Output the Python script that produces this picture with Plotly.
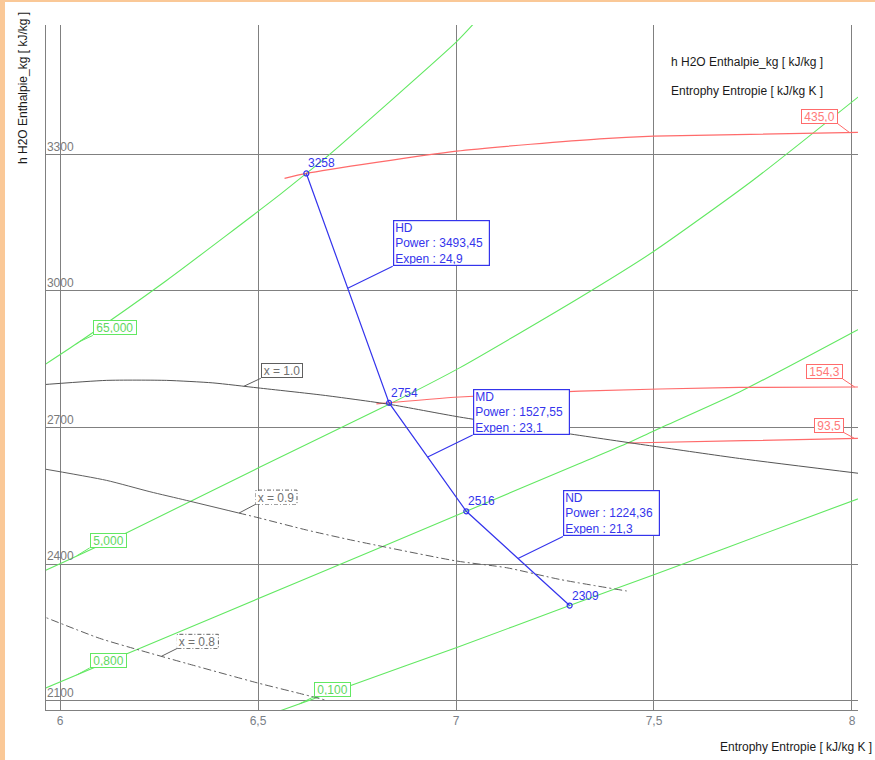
import numpy as np
import plotly.graph_objects as go

FONT = "Liberation Sans, Arial, sans-serif"
BLUE = "#3434ec"
GREEN = "#62e862"
GREEN_TXT = "#5fd85f"
RED = "#ff6b6b"
RED_TXT = "#ff7a7a"
GRID = "#808080"
SAT = "#555555"
QUAL = "#5f5f5f"

# ---- turbine expansion line (s in kJ/kg K, h in kJ/kg) ----
stage_s = [6.622, 6.831, 7.026, 7.287]
stage_h = [3258, 2754, 2516, 2309]
section_names = ["HD", "MD", "ND"]
section_power = ["3493,45", "1527,55", "1224,36"]
section_expen = ["24,9", "23,1", "21,3"]

# ---- isobars (bar) ----
p65_s = [5.940, 6.050, 6.269, 6.556, 6.622, 6.681, 7.001, 7.050]
p65_h = [2826, 2889, 3023, 3212, 3258, 3300, 3547, 3592]
p5_s = [5.940, 6.166, 6.500, 6.831, 7.009, 7.312, 7.498, 7.750, 8.030]
p5_h = [2377, 2468, 2611, 2751, 2831, 2985, 3086, 3243, 3436]
p08_s = [5.940, 6.166, 6.610, 7.026, 7.312, 7.434, 7.498, 7.716, 8.030]
p08_h = [2119, 2202, 2364, 2516, 2621, 2666, 2692, 2778, 2922]
p01_s = [6.550, 6.736, 7.002, 7.287, 7.498, 7.868, 8.030]
p01_h = [2076, 2134, 2217, 2309, 2376, 2496, 2548]
isobar_labels = ["65,000", "5,000", "0,800", "0,100"]
isobar_label_s = [6.050, 6.042, 6.042, 6.605]

# ---- isotherms (deg C) ----
t435_s = [6.567, 6.622, 7.001, 7.363, 7.499, 8.015]
t435_h = [3247, 3258, 3307, 3334, 3340, 3348]
t154_s = [6.799, 7.009, 7.312, 7.716, 8.015]
t154_h = [2752, 2767, 2780, 2788, 2789]
t93_s = [7.434, 7.727, 8.015]
t93_h = [2666, 2671, 2676]
isotherm_labels = ["435,0", "154,3", "93,5"]
isotherm_label_s = [7.994, 8.007, 8.007]

# ---- lines of constant steam quality ----
x10_s = [5.940, 6.117, 6.269, 6.386, 6.500, 6.664, 6.831, 7.009, 7.279, 7.498, 7.716, 8.030]
x10_h = [2793, 2803.5, 2803.5, 2798, 2787, 2771, 2751, 2723, 2687, 2659, 2632, 2598]
x09_s = [5.940, 6.117, 6.227, 6.319, 6.500, 6.622, 6.740, 7.000, 7.128, 7.264, 7.431]
x09_h = [2612, 2584, 2559, 2540, 2502, 2475, 2452, 2407, 2392, 2366, 2341]
x08_s = [5.940, 6.100, 6.201, 6.319, 6.499, 6.605, 6.668]
x08_h = [2291, 2237, 2211, 2182, 2139, 2116, 2102]
quality_labels = ["x = 1.0", "x = 0.9", "x = 0.8"]
quality_label_s = [6.464, 6.452, 6.256]

# ---- axes ----
x_ticks = [6, 6.5, 7, 7.5, 8]
x_ticktext = ["6", "6,5", "7", "7,5", "8"]
y_ticks = [2100, 2400, 2700, 3000, 3300]
y_ticktext = ["2100", "2400", "2700", "3000", "3300"]
x_range = [5.9646, 8.0152]
y_range = [2079.6, 3584.0]

h_title = "h H2O Enthalpie_kg [ kJ/kg ]"
s_title = "Entrophy Entropie [ kJ/kg K ]"

fig = go.Figure()


def add_line(s, h, color, width=1.0, dash="solid", shape="spline"):
    fig.add_trace(go.Scatter(x=s, y=h, mode="lines", hoverinfo="skip",
                             line=dict(color=color, width=width, dash=dash,
                                       shape=shape, smoothing=0.6),
                             showlegend=False))


isobars = [(p65_s, p65_h), (p5_s, p5_h), (p08_s, p08_h), (p01_s, p01_h)]
for s, h in isobars:
    add_line(s, h, GREEN, 1.1)

isotherms = [(t435_s, t435_h), (t154_s, t154_h), (t93_s, t93_h)]
for s, h in isotherms:
    add_line(s, h, RED, 1.2)

# saturation line and wet-steam quality lines
add_line(x10_s, x10_h, SAT, 1.0)
split = 6.45
x09_sa = np.array(x09_s)
x09_ha = np.array(x09_h)
h_split = float(np.interp(split, x09_sa, x09_ha))
left = x09_sa < split
add_line(list(x09_sa[left]) + [split], list(x09_ha[left]) + [h_split], QUAL, 1.0)
add_line([split] + list(x09_sa[~left]), [h_split] + list(x09_ha[~left]), QUAL, 1.0,
         "8px,3px,2px,3px")
add_line(x08_s, x08_h, QUAL, 1.0, "8px,3px,2px,3px")

# expansion line with state points
fig.add_trace(go.Scatter(x=stage_s, y=stage_h, mode="lines+markers", hoverinfo="skip",
                         line=dict(color=BLUE, width=1.2),
                         marker=dict(symbol="circle-open", size=5, color=BLUE,
                                     line=dict(width=1.2, color=BLUE)),
                         showlegend=False))

annotations = []
shapes = []

for s, h in zip(stage_s, stage_h):
    annotations.append(dict(x=s, y=h, text=str(h), showarrow=False,
                            xanchor="left", yanchor="bottom", yshift=1,
                            font=dict(family=FONT, size=12, color=BLUE)))

for i, name in enumerate(section_names):
    ms = (stage_s[i] + stage_s[i + 1]) / 2
    mh = (stage_h[i] + stage_h[i + 1]) / 2
    annotations.append(dict(
        x=ms, y=mh, ax=45, ay=-22, axref="pixel", ayref="pixel",
        text=f"{name}<br>Power : {section_power[i]}<br>Expen : {section_expen[i]}",
        showarrow=True, arrowhead=0, arrowwidth=1.1, arrowcolor=BLUE,
        xanchor="left", yanchor="bottom", align="left", valign="middle",
        width=93, height=42, borderpad=1, borderwidth=1.2,
        bordercolor=BLUE, bgcolor="white",
        font=dict(family=FONT, size=12, color=BLUE)))

# isobar labels
isobar_offsets = [(13, -6), (13, -8), (13, -7), (14, -7)]
for (s, h), lab, ls, (ax, ay) in zip(isobars, isobar_labels, isobar_label_s, isobar_offsets):
    lh = float(np.interp(ls, s, h))
    annotations.append(dict(
        x=ls, y=lh, ax=ax, ay=ay, text=lab, showarrow=True, arrowhead=0,
        arrowwidth=1, arrowcolor=GREEN, xanchor="left", yanchor="bottom",
        width=len(lab) * 6.6, height=11, borderpad=1, borderwidth=1,
        bordercolor=GREEN, bgcolor="white",
        font=dict(family=FONT, size=12, color=GREEN_TXT)))

# isotherm labels
isotherm_offsets = [(-12, -9), (-12, -8), (-11, -6)]
for (s, h), lab, ls, (ax, ay) in zip(isotherms, isotherm_labels, isotherm_label_s, isotherm_offsets):
    lh = float(np.interp(ls, s, h))
    annotations.append(dict(
        x=ls, y=lh, ax=ax, ay=ay, text=lab, showarrow=True, arrowhead=0,
        arrowwidth=1, arrowcolor=RED, xanchor="right", yanchor="bottom",
        width=len(lab) * 6.6, height=11, borderpad=1, borderwidth=1,
        bordercolor=RED, bgcolor="white",
        font=dict(family=FONT, size=12, color=RED_TXT)))

# quality labels
quality_lines = [(x10_s, x10_h), (x09_s, x09_h), (x08_s, x08_h)]
quality_offsets = [(17, -8), (17, -9), (16, -8)]
for k, ((s, h), lab, ls, (ax, ay)) in enumerate(
        zip(quality_lines, quality_labels, quality_label_s, quality_offsets)):
    lh = float(np.interp(ls, s, h))
    solid = k == 0
    annotations.append(dict(
        x=ls, y=lh, ax=ax, ay=ay, text=lab, showarrow=True, arrowhead=0,
        arrowwidth=1, arrowcolor=QUAL, xanchor="left", yanchor="bottom",
        width=38, height=11, borderpad=1, borderwidth=1 if solid else 0,
        bordercolor=QUAL, bgcolor="white",
        font=dict(family=FONT, size=12, color="#707070")))
    if not solid:
        shapes.append(dict(
            type="rect", xref="x", yref="y", xsizemode="pixel", ysizemode="pixel",
            xanchor=ls, yanchor=lh, x0=ax, x1=ax + 41, y0=-ay, y1=-ay + 14,
            line=dict(color=QUAL, width=1, dash="4px,2px,1px,2px"),
            fillcolor="rgba(0,0,0,0)", layer="above"))

# axis titles and caption texts
annotations.append(dict(xref="paper", yref="paper", x=-0.0283, y=1.0219,
                        text=h_title, textangle=-90, showarrow=False,
                        xanchor="center", yanchor="top",
                        font=dict(family=FONT, size=12, color="#1a1a1a")))
annotations.append(dict(xref="paper", yref="paper", x=1.0197, y=-0.054,
                        text=s_title, showarrow=False, xanchor="right", yanchor="middle",
                        font=dict(family=FONT, size=12, color="#1a1a1a")))
annotations.append(dict(xref="paper", yref="paper", x=0.7672, y=0.9464,
                        text=h_title, showarrow=False, xanchor="left", yanchor="middle",
                        font=dict(family=FONT, size=12, color="#1a1a1a")))
annotations.append(dict(xref="paper", yref="paper", x=0.7672, y=0.9036,
                        text=s_title, showarrow=False, xanchor="left", yanchor="middle",
                        font=dict(family=FONT, size=12, color="#1a1a1a")))

# orange window frame on the left and top
FRAME = "#FAC897"
shapes.append(dict(type="rect", xref="paper", yref="paper", x0=-0.0567, x1=-0.0505,
                   y0=-0.075, y1=1.037, line=dict(width=0), fillcolor=FRAME, layer="above"))
shapes.append(dict(type="rect", xref="paper", yref="paper", x0=-0.0567, x1=1.022,
                   y0=1.0336, y1=1.037, line=dict(width=0), fillcolor=FRAME, layer="above"))

fig.update_layout(
    width=875, height=760, autosize=False,
    margin=dict(l=46, r=17, t=25, b=50, pad=0),
    paper_bgcolor="white", plot_bgcolor="white",
    font=dict(family=FONT, size=12, color=GRID),
    showlegend=False,
    annotations=annotations, shapes=shapes,
)
fig.update_xaxes(range=x_range, tickvals=x_ticks, ticktext=x_ticktext,
                 showgrid=True, gridcolor=GRID, gridwidth=1, zeroline=False,
                 showline=True, linecolor=GRID, linewidth=1, ticks="",
                 tickfont=dict(family=FONT, size=12, color="#7a7f88"))
# y labels sit just inside the plot, above their grid lines
fig.update_yaxes(range=y_range, tickvals=y_ticks, ticktext=y_ticktext,
                 showgrid=True, gridcolor=GRID, gridwidth=1, zeroline=False,
                 showline=True, linecolor=GRID, linewidth=1, ticks="",
                 ticklabelposition="outside", ticklabelstandoff=-31,
                 ticklabelshift=-8,
                 tickfont=dict(family=FONT, size=12, color="#7a7a7a"))

fig.write_html("out.html")
